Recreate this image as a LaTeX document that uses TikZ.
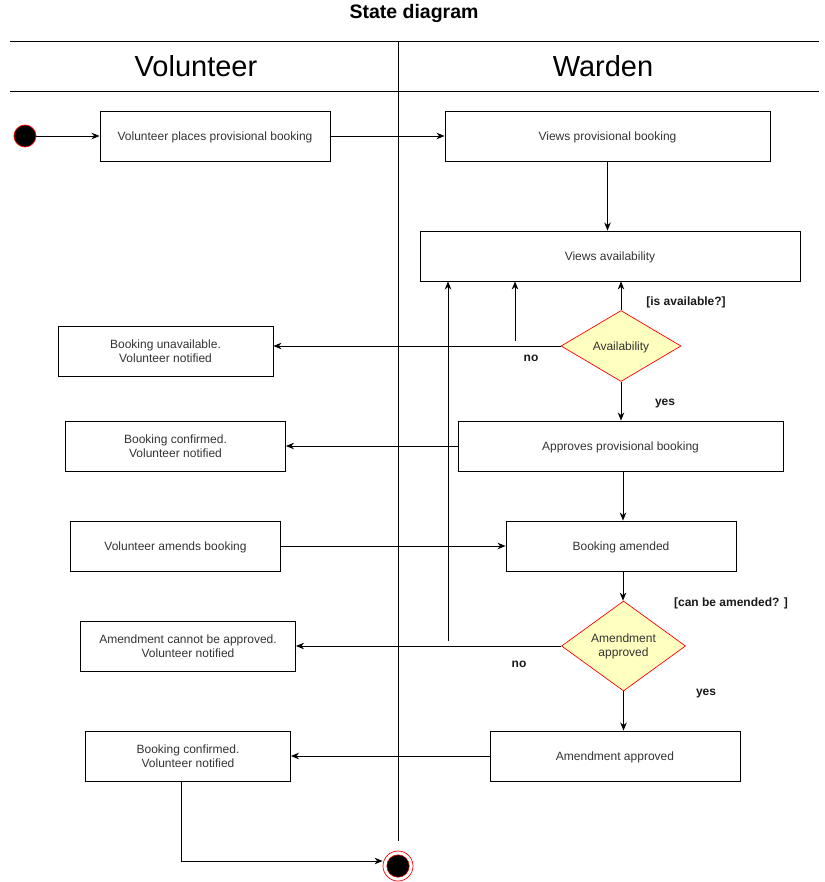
\documentclass[tikz,border=0pt]{standalone}
\usepackage{fontspec}
\setmainfont{Liberation Sans}
\usetikzlibrary{shapes.geometric,arrows.meta,calc}
\definecolor{boxtext}{HTML}{333333}
\definecolor{dfill}{HTML}{FFFFC0}
\tikzset{
  box/.style={draw=black, line width=0.9pt, rectangle, minimum height=50pt, inner sep=2pt,
     align=center, text=boxtext, font=\fontsize{12}{14}\selectfont,
     execute at begin node={\rule{0pt}{12pt}}},
  decision/.style={diamond, draw=red, fill=dfill, line width=0.7pt, inner sep=0pt,
     align=center, text=boxtext, font=\fontsize{12}{14}\selectfont,
     execute at begin node={\rule{0pt}{12pt}}},
  lbl/.style={font=\bfseries\fontsize{12}{14}\selectfont, text=black!90, inner sep=0pt},
  lane/.style={font=\fontsize{29}{32}\selectfont, text=black, inner sep=0pt},
  conn/.style={line width=0.9pt, -{Stealth[length=8pt,width=6.5pt,inset=2.5pt]}},
  plain/.style={line width=0.9pt},
}
\begin{document}
\begin{tikzpicture}[x=1pt,y=-1pt]
\useasboundingbox (0,0) rectangle (824,882);
% title and swimlanes
\node[font=\bfseries\fontsize{19.5}{22}\selectfont, inner sep=0pt] (title) at (414,13.5) {State diagram};
\coordinate (l1a) at (10,41); \coordinate (l1b) at (819,41);
\coordinate (l2a) at (10,91); \coordinate (l2b) at (819,91);
\coordinate (va) at (398,41); \coordinate (vb) at (398,841);
\draw[plain] (l1a) -- (l1b);
\draw[plain] (l2a) -- (l2b);
\draw[plain] (va) -- (vb);
\node[lane] (hv) at (196,66.5) {Volunteer};
\node[lane] (hw) at (603,66.5) {Warden};

% start
\node[circle, fill=black, draw=red, line width=0.7pt, minimum size=22pt, inner sep=0pt] (start) at (25,136) {};

% boxes
\node[box, minimum width=230pt] (b1) at (215,136) {Volunteer places provisional booking};
\node[box, minimum width=325pt] (b2) at (607.5,136) {Views provisional booking};
\node[box, minimum width=380pt] (b3) at (610,256) {Views availability};
\node[decision, minimum width=120pt, minimum height=70pt] (d1) at (621,346) {Availability};
\node[box, minimum width=215pt] (bu) at (165.5,351) {Booking unavailable.\\Volunteer notified};
\node[box, minimum width=325pt] (ap) at (620.5,446) {Approves provisional booking};
\node[box, minimum width=220pt] (bc1) at (175.5,446) {Booking confirmed.\\Volunteer notified};
\node[box, minimum width=230pt] (ba) at (621,546) {Booking amended};
\node[box, minimum width=210pt] (vam) at (175.5,546) {Volunteer amends booking};
\node[decision, minimum width=124pt, minimum height=90pt] (d2) at (623.5,646) {Amendment\\approved};
\node[box, minimum width=215pt] (ac) at (188,646) {Amendment cannot be approved.\\Volunteer notified};
\node[box, minimum width=250pt] (aa) at (615,756) {Amendment approved};
\node[box, minimum width=205pt] (bc2) at (188,756) {Booking confirmed.\\ Volunteer notified};

% end
\node[circle, fill=white, draw=red, line width=0.7pt, minimum size=30pt, inner sep=0pt] (endn) at (398,866) {};
\node[circle, fill=black, draw=red, line width=0.5pt, minimum size=22.5pt, inner sep=0pt] (endin) at (endn) {};

% connectors
\draw[conn] (start) -- (b1.west);
\draw[conn] (b1.east) -- (b2.west);
\draw[conn] (b2.south) -- (b2.south |- b3.north);
\draw[conn] (d1.north) -- (d1.north |- b3.south);
\draw[conn] (d1.west) -- (d1.west -| bu.east);
\coordinate (n1) at (515,341);
\draw[conn] (n1) -- (n1 |- b3.south);
\draw[conn] (d1.south) -- (d1.south |- ap.north);
\draw[conn] (ap.west) -- (bc1.east);
\draw[conn] ([xshift=2.5pt]ap.south) -- ([xshift=2.5pt]ap.south |- ba.north);
\draw[conn] (vam.east) -- (ba.west);
\draw[conn] ([xshift=2pt]ba.south) -- ([xshift=2pt]ba.south |- d2.north);
\draw[conn] (d2.west) -- (d2.west -| ac.east);
\coordinate (n2) at (448,641);
\draw[conn] (n2) -- (n2 |- b3.south);
\draw[conn] (d2.south) -- (d2.south |- aa.north);
\draw[conn] (aa.west) -- (bc2.east);
\draw[conn] ([xshift=-6.5pt]bc2.south) |- ([yshift=5pt]endn.west);

% labels
\node[lbl] (q1) at (686,302.5) {[is available?]};
\node[lbl] (no1) at (531,358) {no};
\node[lbl] (yes1) at (665,404) {yes};
\node[lbl] (q2) at (731,603.5) {[can be amended? ]};
\node[lbl] (no2) at (519,664) {no};
\node[lbl] (yes2) at (706,694) {yes};
\end{tikzpicture}
\end{document}
